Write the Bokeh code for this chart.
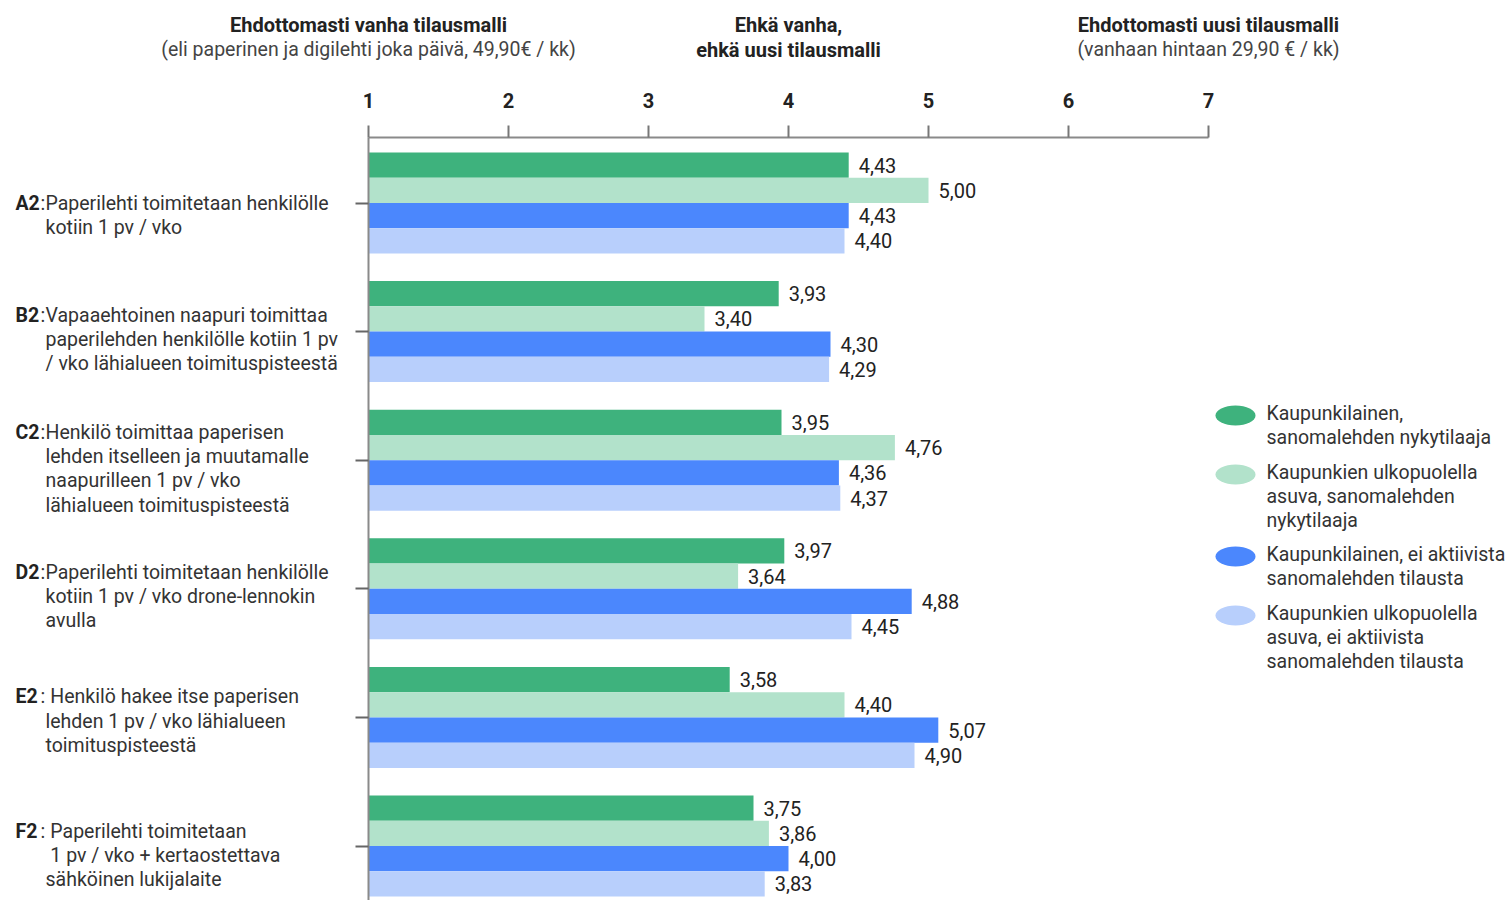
from bokeh.plotting import figure
from bokeh.models import Range1d, FixedTicker, Label, ColumnDataSource
from bokeh.core.properties import value
from bokeh.embed import file_html
from bokeh.resources import INLINE

NB = "\u00a0"

# ---------------- data ----------------
categories = ["A2", "B2", "C2", "D2", "E2", "F2"]
category_texts = [
    "Paperilehti toimitetaan henkilölle\nkotiin 1 pv / vko",
    "Vapaaehtoinen naapuri toimittaa\npaperilehden henkilölle kotiin 1 pv\n/ vko lähialueen toimituspisteestä",
    "Henkilö toimittaa paperisen\nlehden itselleen ja muutamalle\nnaapurilleen 1 pv / vko\nlähialueen toimituspisteestä",
    "Paperilehti toimitetaan henkilölle\nkotiin 1 pv / vko drone-lennokin\navulla",
    NB + "Henkilö hakee itse paperisen\nlehden 1 pv / vko lähialueen\ntoimituspisteestä",
    NB + "Paperilehti toimitetaan\n" + NB + "1 pv / vko + kertaostettava\nsähköinen lukijalaite",
]
series_names = [
    "Kaupunkilainen,\nsanomalehden nykytilaaja",
    "Kaupunkien ulkopuolella\nasuva, sanomalehden\nnykytilaaja",
    "Kaupunkilainen, ei aktiivista\nsanomalehden tilausta",
    "Kaupunkien ulkopuolella\nasuva, ei aktiivista\nsanomalehden tilausta",
]
city_subscriber = [4.43, 3.93, 3.95, 3.97, 3.58, 3.75]
rural_subscriber = [5.00, 3.40, 4.76, 3.64, 4.40, 3.86]
city_nonsubscriber = [4.43, 4.30, 4.36, 4.88, 5.07, 4.00]
rural_nonsubscriber = [4.40, 4.29, 4.37, 4.45, 4.90, 3.83]
series_values = [city_subscriber, rural_subscriber, city_nonsubscriber, rural_nonsubscriber]
x_ticks = [1, 2, 3, 4, 5, 6, 7]
header_bold = ["Ehdottomasti vanha tilausmalli", "Ehkä vanha,\nehkä uusi tilausmalli", "Ehdottomasti uusi tilausmalli"]
header_sub = ["(eli paperinen ja digilehti joka päivä, 49,90€ / kk)", "", "(vanhaan hintaan 29,90 € / kk)"]
header_pos = [1, 4, 7]

# ---------------- style / layout ----------------
colors = ["#3eb27d", "#b2e2cb", "#4b87fd", "#b8cffc"]
FONT = "Roboto"
FS = "19.5px"
W, H = 1508, 900
AXIS_X_PX, AXIS_Y_PX = 368, 137
PX_PER_X = 140.0
SLOT = 25.25           # px per bar slot
FIRST_BAR_TOP = 152
GROUP_PITCH = 128.6 / SLOT
label_shift_px = [0, -17, -28, -17, -21, -15]
LH = 1.05


def xdata(px):
    return 1 + (px - AXIS_X_PX) / PX_PER_X


def ydata(px):
    return (px - FIRST_BAR_TOP) / SLOT


def ypx(y):
    return FIRST_BAR_TOP + y * SLOT


p = figure(
    width=W, height=H,
    x_range=Range1d(xdata(0), xdata(W)),
    y_range=Range1d(ydata(H), ydata(0)),
    x_axis_location="above",
    output_backend="svg", toolbar_location=None,
    min_border=0,
)
p.outline_line_color = None
p.grid.visible = False

# bars
for j, vals in enumerate(series_values):
    ys = [i * GROUP_PITCH + j + 0.5 for i in range(len(categories))]
    src = ColumnDataSource(dict(
        y=ys, right=vals,
        lab=[f"{v:.2f}".replace(".", ",") for v in vals],
    ))
    p.hbar(y="y", left=1, right="right", height=1.0, source=src,
           fill_color=colors[j], line_color=None)
    p.text(x="right", y="y", text="lab", source=src, x_offset=10,
           text_baseline="middle", text_align="left",
           text_font=value(FONT), text_font_size="20px", text_color="#222222")

# top axis (fixed at the top of the plotting area)
xa = p.xaxis[0]
xa.fixed_location = ydata(AXIS_Y_PX)
xa.ticker = FixedTicker(ticks=x_ticks)
xa.bounds = (1, 7)
xa.axis_line_color = "#8a8a8a"
xa.axis_line_width = 2
xa.major_tick_out = 12
xa.major_tick_in = 0
xa.major_tick_line_color = "#777777"
xa.major_tick_line_width = 2
xa.minor_tick_line_color = None
xa.major_label_text_font = FONT
xa.major_label_text_font_size = "20px"
xa.major_label_text_font_style = "bold"
xa.major_label_text_color = "#222222"
xa.major_label_standoff = 18

# left axis (fixed at x = 1), ticks only
group_centers = [i * GROUP_PITCH + 2 for i in range(len(categories))]
ya = p.yaxis[0]
ya.fixed_location = 1
ya.bounds = (ydata(AXIS_Y_PX), ydata(H))
ya.ticker = FixedTicker(ticks=group_centers)
ya.major_label_overrides = {c: "" for c in group_centers}
ya.major_label_standoff = 0
ya.axis_line_color = "#8a8a8a"
ya.axis_line_width = 2
ya.major_tick_out = 13
ya.major_tick_in = 0
ya.major_tick_line_color = "#666666"
ya.major_tick_line_width = 2
ya.minor_tick_line_color = None

# category labels
for i, (cat, txt) in enumerate(zip(categories, category_texts)):
    first_line_px = ypx(group_centers[i]) + label_shift_px[i]
    ytop = ydata(first_line_px - 11)
    p.add_layout(Label(x=xdata(15), y=ytop, text=cat, text_font=FONT,
                       text_font_style="bold", text_font_size=FS,
                       text_color="#222222", text_baseline="top"))
    p.add_layout(Label(x=xdata(40), y=ytop, text=":", text_font=FONT,
                       text_font_size=FS, text_color="#333333",
                       text_baseline="top"))
    p.add_layout(Label(x=xdata(45), y=ytop, text=txt, text_font=FONT,
                       text_font_size=FS, text_color="#333333",
                       text_baseline="top", text_line_height=LH))

# headers
for xpos, hb, hs in zip(header_pos, header_bold, header_sub):
    p.add_layout(Label(x=xpos, y=ydata(12), text=hb, text_font=FONT,
                       text_font_style="bold", text_font_size="20px",
                       text_color="#222222", text_align="center",
                       text_baseline="top", text_line_height=LH))
    if hs:
        p.add_layout(Label(x=xpos, y=ydata(37), text=hs, text_font=FONT,
                           text_font_size=FS, text_color="#444444",
                           text_align="center", text_baseline="top"))

# legend (manual)
legend_rows_px = [415, 474, 556, 615]
p.ellipse(x=[xdata(1235)] * 4, y=[ydata(v) for v in legend_rows_px],
          width=40, height=20, width_units="screen", height_units="screen",
          fill_color=colors, line_color=None)
for name, rpx in zip(series_names, legend_rows_px):
    p.add_layout(Label(x=xdata(1266), y=ydata(rpx - 14), text=name,
                       text_font=FONT, text_font_size=FS,
                       text_color="#333333", text_baseline="top",
                       text_line_height=LH))

open("out.html", "w").write(file_html(p, INLINE))
